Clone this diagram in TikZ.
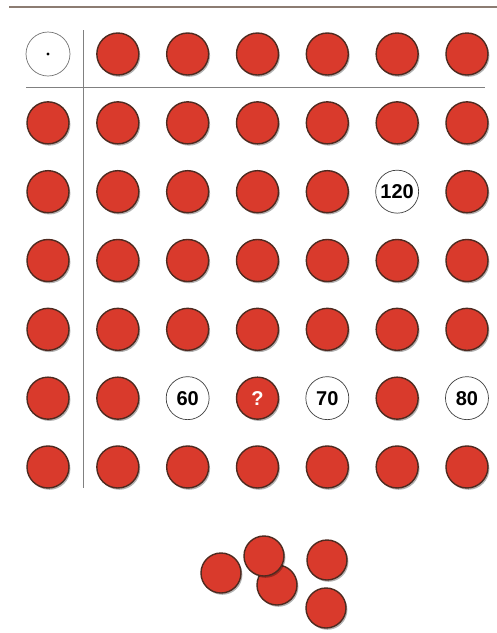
\documentclass[tikz,border=0pt]{standalone}
\usepackage{fontspec}
\setsansfont{Liberation Sans}
\usetikzlibrary{shadows}
\definecolor{chipRed}{HTML}{D93A2C}
\definecolor{chipRim}{HTML}{4E2A20}
\definecolor{ruleBrown}{HTML}{8C7C72}
\colorlet{gridGrey}{black!50}

\begin{document}
\begin{tikzpicture}[x=1pt,y=-1pt,
  chip/.style={circle, minimum size=42pt, inner sep=0pt, fill=chipRed, draw=chipRim, line width=1.4pt,
    drop shadow={shadow xshift=1.4pt, shadow yshift=-1.8pt, fill=black, opacity=0.3}},
  blank/.style={circle, minimum size=43pt, inner sep=0pt, fill=white, draw=black!75, line width=0.7pt},
  num/.style={font=\sffamily\bfseries\fontsize{20}{20}\selectfont}]
\useasboundingbox (0,0) rectangle (497,633);
\draw[ruleBrown, line width=2pt] (9,7) -- (497,7);
% table lines
\draw[gridGrey, line width=0.9pt] (83,30) -- (83,488);
\draw[gridGrey, line width=0.9pt] (26,87) -- (485,87);
% unit disc
\node[blank, draw=black!55, minimum size=44pt] (unit) at (48,54) {};
\fill (unit.center) circle (1.6pt);
% red chips of the table
\foreach \r/\cols in {1/{2,3,4,5,6,7}, 2/{1,2,3,4,5,6,7}, 3/{1,2,3,4,5,7},
    4/{1,2,3,4,5,6,7}, 5/{1,2,3,4,5,6,7}, 6/{1,2,6}, 7/{1,2,3,4,5,6,7}}
  \foreach \c in \cols
    \node[chip] (d-\r-\c) at ({48+(\c-1)*69.83},{54+(\r-1)*68.83}) {};
% numbered discs
\node[blank, num] (d-3-6) at ({48+5*69.83},{54+2*68.83}) {120};
\node[blank, num] (d-6-3) at ({48+2*69.83},{54+5*68.83}) {60};
\node[chip, num, text=white] (d-6-4) at ({48+3*69.83},{54+5*68.83}) {?};
\node[blank, num] (d-6-5) at ({48+4*69.83},{54+5*68.83}) {70};
\node[blank, num] (d-6-7) at ({48+6*69.83},{54+5*68.83}) {80};
% loose chips
\node[chip, minimum size=40pt] (p1) at (221,573) {};
\node[chip, minimum size=40pt] (p2) at (277,585) {};
\node[chip, minimum size=40pt] (p3) at (264,556) {};
\node[chip, minimum size=40pt] (p4) at (327,560) {};
\node[chip, minimum size=40pt] (p5) at (326,608) {};
\end{tikzpicture}
\end{document}
